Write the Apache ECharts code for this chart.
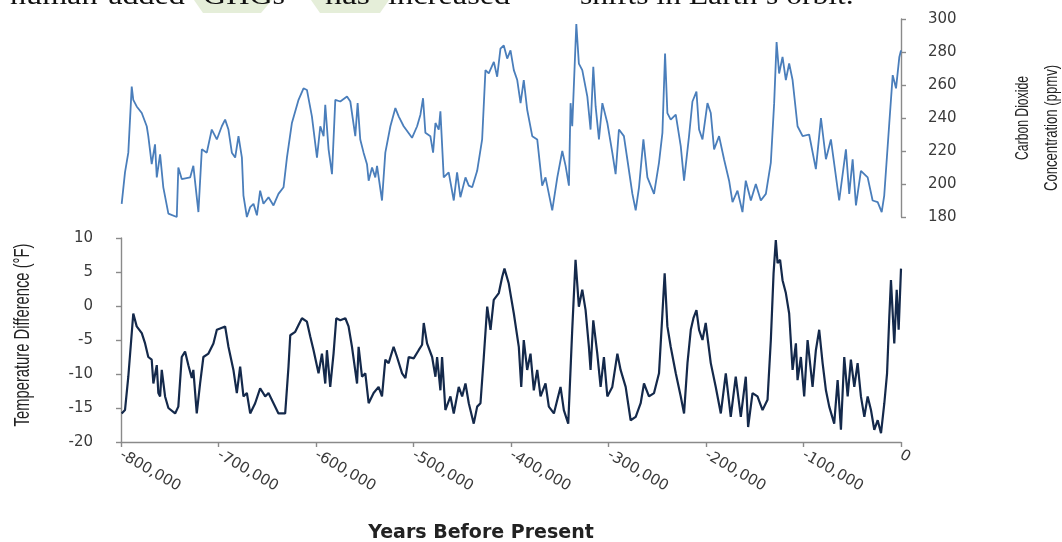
<!DOCTYPE html>
<html><head><meta charset="utf-8">
<script src="https://cdn.jsdelivr.net/npm/echarts@6/dist/echarts.min.js"></script>
<style>html,body{margin:0;padding:0;background:#fff}#c{width:1062px;height:542px}</style>
</head><body><div id="c"></div>
<script>
// Years before present in thousands (kyr, negative = past)
const co2Years = [-799.3,-795.9,-792.5,-789.0,-787.4,-783.9,-778.7,-773.6,-772.0,-768.5,-765.1,-763.3,-759.9,-756.6,-751.4,-742.8,-741.2,-737.7,-729.1,-725.8,-720.6,-717.1,-712.0,-706.9,-701.7,-696.6,-693.2,-689.8,-686.3,-682.9,-679.5,-676.0,-674.4,-670.9,-667.5,-664.1,-660.6,-657.3,-653.9,-648.7,-643.6,-638.5,-633.3,-629.8,-624.7,-617.9,-612.8,-609.3,-604.2,-599.0,-595.6,-592.2,-590.5,-587.1,-583.6,-580.2,-575.1,-568.2,-564.8,-559.7,-557.3,-554.6,-551.2,-547.7,-546.0,-542.5,-539.2,-537.4,-532.3,-528.9,-523.7,-518.6,-515.2,-510.1,-501.5,-496.3,-492.9,-490.2,-487.8,-482.7,-479.9,-477.5,-474.1,-472.4,-469.0,-463.9,-458.7,-455.3,-451.9,-446.7,-443.3,-439.8,-434.7,-429.6,-426.2,-422.8,-417.6,-414.2,-410.8,-407.4,-403.9,-400.5,-397.1,-393.6,-390.2,-386.9,-383.4,-378.2,-373.1,-368.0,-364.6,-357.7,-352.5,-347.4,-344.0,-340.6,-338.9,-337.2,-333.0,-330.4,-326.9,-321.7,-318.4,-315.6,-313.2,-309.8,-306.3,-301.2,-296.1,-292.7,-289.3,-284.2,-280.7,-275.5,-272.1,-268.7,-264.2,-260.1,-253.3,-248.2,-244.7,-242.0,-239.6,-236.2,-231.0,-225.9,-222.5,-217.4,-213.9,-209.8,-207.1,-203.6,-198.5,-195.1,-191.7,-186.6,-181.5,-176.3,-172.8,-167.7,-162.6,-159.2,-154.0,-148.9,-143.8,-138.6,-133.5,-130.1,-127.6,-125.0,-121.5,-118.1,-114.7,-111.2,-106.1,-100.9,-94.2,-87.3,-82.1,-77.0,-71.9,-63.4,-56.5,-53.1,-49.6,-46.2,-41.1,-34.2,-29.1,-23.9,-19.8,-17.2,-12.0,-8.5,-5.1,-1.7,0];
const co2Values = [188,207,219,259,251,247,243,235,229,212,224,204,218,198,182,180,210,203,204,211,183,221,219,233,227,235,239,233,219,216,229,216,193,180,186,188,181,196,188,192,187,194,198,216,237,251,258,257,241,216,235,229,248,221,206,251,250,253,250,229,249,227,219,212,202,210,204,211,190,219,235,246,241,235,228,235,242,252,231,229,219,237,233,244,204,207,190,207,192,204,199,198,208,227,269,267,274,265,282,284,276,281,269,263,249,263,245,229,227,199,204,184,204,220,211,199,249,235,297,273,269,253,233,271,247,227,249,237,219,206,233,229,215,194,184,198,227,204,194,213,231,279,243,239,242,223,202,229,250,256,233,227,249,243,221,229,215,202,189,196,183,202,190,200,190,194,213,249,286,267,277,263,273,263,235,229,230,209,240,215,227,190,221,194,215,187,208,204,190,189,183,193,237,266,258,277,281];

const tempYears = [-799.3,-795.9,-792.5,-787.4,-783.9,-778.7,-775.3,-772.0,-768.5,-766.8,-763.3,-761.7,-759.9,-758.2,-754.8,-751.4,-744.5,-741.2,-737.7,-734.3,-730.9,-727.4,-725.8,-722.3,-718.9,-715.5,-710.3,-705.2,-701.7,-698.3,-693.2,-689.8,-684.7,-681.2,-677.8,-674.4,-670.9,-667.5,-662.4,-657.3,-652.1,-648.7,-643.6,-638.5,-631.6,-628.2,-626.4,-621.3,-617.9,-614.4,-609.3,-605.9,-602.5,-597.4,-593.9,-590.5,-588.8,-585.4,-582.0,-579.2,-575.1,-569.9,-566.6,-563.1,-557.9,-556.3,-552.8,-549.4,-546.0,-540.9,-535.8,-532.3,-528.9,-525.5,-520.4,-516.9,-511.7,-508.3,-504.9,-499.8,-494.7,-491.2,-489.5,-486.1,-480.9,-477.5,-475.8,-472.4,-470.7,-467.3,-462.1,-458.7,-453.6,-450.1,-446.7,-443.3,-438.2,-434.7,-431.3,-427.9,-424.4,-421.0,-417.7,-412.5,-409.0,-406.7,-402.3,-397.1,-392.0,-389.5,-386.9,-383.4,-380.0,-376.6,-373.1,-369.7,-364.6,-361.2,-356.0,-352.5,-349.2,-345.8,-341.3,-337.2,-333.8,-330.4,-326.9,-323.5,-320.1,-318.4,-315.6,-311.5,-308.1,-304.7,-301.2,-296.1,-290.9,-287.6,-282.4,-277.3,-272.1,-267.0,-263.6,-258.5,-253.3,-248.2,-244.7,-242.4,-239.6,-236.2,-231.0,-225.9,-222.5,-219.0,-215.6,-212.9,-209.8,-207.1,-203.6,-200.3,-195.1,-190.0,-184.8,-179.7,-174.6,-169.5,-164.3,-159.2,-156.8,-152.3,-147.2,-142.0,-136.9,-133.5,-130.7,-128.4,-126.6,-124.0,-121.5,-118.1,-114.7,-111.2,-107.8,-106.1,-102.7,-99.3,-95.8,-90.7,-87.3,-83.9,-80.4,-77.0,-73.6,-68.5,-65.0,-61.6,-58.2,-54.7,-51.4,-47.9,-44.5,-41.1,-37.6,-34.2,-30.8,-27.4,-23.9,-20.5,-17.1,-14.3,-12.0,-10.3,-6.9,-4.4,-2.4,0];
const tempValues = [-15.8,-15.3,-10.4,-1.1,-3.0,-4.0,-5.5,-7.5,-7.9,-11.4,-8.7,-12.8,-13.3,-9.4,-13.3,-15.0,-15.8,-14.8,-7.5,-6.7,-8.7,-10.6,-9.4,-15.8,-11.4,-7.5,-7.0,-5.5,-3.5,-3.3,-3.0,-6.0,-9.4,-12.8,-8.9,-13.3,-12.8,-15.8,-14.3,-12.1,-13.3,-12.8,-14.3,-15.8,-15.8,-8.9,-4.3,-3.8,-2.8,-1.8,-2.3,-4.5,-6.5,-9.9,-7.0,-11.4,-6.5,-11.9,-7.0,-1.8,-2.1,-1.8,-3.0,-6.0,-11.4,-6.0,-10.4,-9.9,-14.3,-12.8,-11.9,-13.3,-7.9,-8.4,-6.0,-7.5,-9.9,-10.6,-7.5,-7.7,-6.5,-5.7,-2.5,-5.5,-7.5,-10.4,-7.5,-12.4,-7.5,-15.3,-13.3,-15.8,-11.9,-13.3,-11.4,-14.3,-17.3,-14.8,-14.3,-7.5,-0.1,-3.5,0.9,1.9,4.3,5.5,3.3,-1.1,-6.0,-11.9,-5.0,-9.4,-7.0,-12.4,-9.4,-13.3,-11.4,-14.8,-15.8,-13.8,-11.9,-15.3,-17.3,-3.5,6.8,-0.1,2.4,-0.6,-6.0,-9.4,-2.1,-7.0,-11.9,-7.5,-13.3,-11.9,-7.0,-9.4,-11.9,-16.8,-16.3,-14.3,-11.4,-13.3,-12.8,-9.9,-1.1,4.8,-3.0,-6.0,-9.9,-13.3,-15.8,-8.4,-3.5,-1.8,-0.6,-3.5,-5.0,-2.5,-8.4,-11.9,-15.8,-9.9,-16.3,-10.4,-16.3,-10.4,-17.8,-12.8,-13.3,-15.3,-13.8,-5.0,4.8,9.7,6.3,6.8,3.8,1.9,-1.1,-9.4,-5.5,-10.9,-7.5,-13.3,-5.0,-11.9,-6.5,-3.5,-8.4,-12.4,-14.8,-17.3,-10.9,-18.2,-7.5,-13.3,-7.9,-11.9,-8.4,-13.3,-16.3,-13.3,-15.3,-18.2,-16.8,-18.7,-14.3,-9.9,-1.6,3.8,-5.5,2.4,-3.5,5.5];

const co2Ticks = [180, 300, 20];      // min, max, step
const tempTicks = [-20, 10, 5];
const yearTicks = [-800, 0, 100];

const topWords = [
  {t: 'human-added', x: 10, s: 1.19},
  {t: 'GHGs', x: 203, s: 1.19},
  {t: 'has', x: 325, s: 1.25},
  {t: 'increased', x: 388, s: 1.2},
  {t: 'shifts in Earth\u2019s orbit.', x: 580, s: 1.17}
];
const co2Name = ['Carbon Dioxide', 'Concentration (ppmv)'];
const tempName = 'Temperature Difference (\u00B0F)';
const yearName = 'Years Before Present';

const axisGrey = '#8a8a8a';
const labelCol = '#3a3a3a';
const nameFont = "'Liberation Sans', Arial, sans-serif";

const chart = echarts.init(document.getElementById('c'), null, {renderer: 'canvas'});

const graphics = [
  {type: 'polygon', z: 1, shape: {points: [[194,0],[272,0],[261,13],[203,13]]}, style: {fill: '#e5eed9'}},
  {type: 'polygon', z: 1, shape: {points: [[311,0],[389,0],[380,13],[320,13]]}, style: {fill: '#e5eed9'}},
  {type: 'text', z: 2, x: 1023, y: 118, rotation: Math.PI / 2, scaleX: 0.76, scaleY: 1.2,
   style: {text: co2Name[0], font: '16px ' + nameFont, fill: '#222', align: 'center', verticalAlign: 'middle'}},
  {type: 'text', z: 2, x: 1052, y: 128, rotation: Math.PI / 2, scaleX: 0.82, scaleY: 1.2,
   style: {text: co2Name[1], font: '16px ' + nameFont, fill: '#222', align: 'center', verticalAlign: 'middle'}},
  {type: 'text', z: 2, x: 23, y: 335, rotation: Math.PI / 2, scaleX: 0.82, scaleY: 1.2,
   style: {text: tempName, font: '18px ' + nameFont, fill: '#222', align: 'center', verticalAlign: 'middle'}}
];
topWords.forEach(w => graphics.push({
  type: 'text', z: 2, x: w.x, y: 10, scaleX: w.s,
  style: {text: w.t, font: '27px "Liberation Serif", "DejaVu Serif", serif', fill: '#111', verticalAlign: 'bottom'}
}));

const yStyle = {
  axisLine: {show: true, onZero: false, lineStyle: {color: axisGrey, width: 1.4}},
  axisTick: {show: true, length: 5, lineStyle: {color: axisGrey, width: 1.4}},
  splitLine: {show: false}
};

chart.setOption({
  animation: false,
  backgroundColor: '#fff',
  graphic: graphics,
  grid: [
    {left: 121, right: 161, top: 19, height: 198, containLabel: false, outerBoundsMode: 'none'},
    {left: 121, right: 161, top: 238, height: 204, containLabel: false, outerBoundsMode: 'none'}
  ],
  xAxis: [
    {gridIndex: 0, type: 'value', min: yearTicks[0], max: yearTicks[1], interval: yearTicks[2], show: false},
    Object.assign({gridIndex: 1, type: 'value', min: yearTicks[0], max: yearTicks[1], interval: yearTicks[2],
     axisLabel: {rotate: -30, margin: 12, fontSize: 15, fontFamily: 'DejaVu Sans', color: labelCol,
       formatter: v => (v * 1000).toLocaleString('en-US')},
     name: yearName, nameLocation: 'middle', nameGap: 82, nameMoveOverlap: false,
     nameTextStyle: {fontFamily: 'DejaVu Sans', fontWeight: 'bold', fontSize: 19, color: '#222', padding: [0, 60, 0, 0]}
    }, yStyle)
  ],
  yAxis: [
    Object.assign({gridIndex: 0, type: 'value', position: 'right', min: co2Ticks[0], max: co2Ticks[1], interval: co2Ticks[2],
     axisLabel: {margin: 27, fontSize: 15, fontFamily: 'DejaVu Sans', color: labelCol}}, yStyle),
    Object.assign({gridIndex: 1, type: 'value', position: 'left', min: tempTicks[0], max: tempTicks[1], interval: tempTicks[2],
     axisLabel: {margin: 28, fontSize: 15, fontFamily: 'DejaVu Sans', color: labelCol}}, yStyle)
  ],
  series: [
    {type: 'line', xAxisIndex: 0, yAxisIndex: 0, showSymbol: false, symbol: 'none',
     data: co2Years.map((y, i) => [y, co2Values[i]]),
     lineStyle: {color: '#4a7ebb', width: 1.8}, itemStyle: {color: '#4a7ebb'}},
    {type: 'line', xAxisIndex: 1, yAxisIndex: 1, showSymbol: false, symbol: 'none',
     data: tempYears.map((y, i) => [y, tempValues[i]]),
     lineStyle: {color: '#14294b', width: 2.2}, itemStyle: {color: '#14294b'}}
  ]
});
</script></body></html>
